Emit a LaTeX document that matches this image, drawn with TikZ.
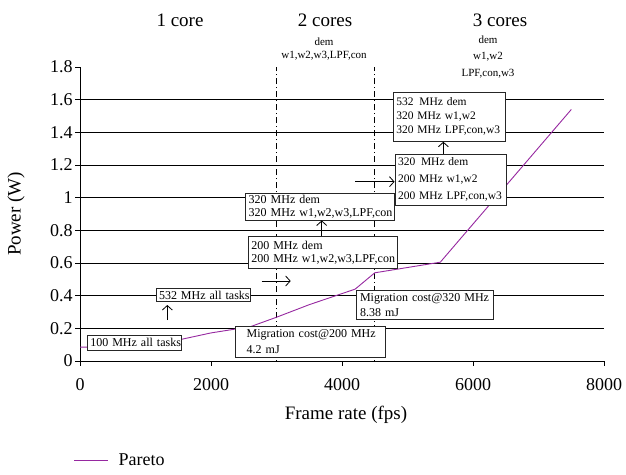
\documentclass[tikz,border=0pt]{standalone}
\usepackage{fontspec}
\setmainfont{Liberation Serif}
\usetikzlibrary{arrows.meta,calc}
\definecolor{pareto}{RGB}{150,40,160}
\newcommand\fsz[2]{\fontsize{#1}{#2}\selectfont}
\begin{document}
\begin{tikzpicture}[x=1pt,y=-1pt,
  gridline/.style={line width=0.8pt, black},
  axisline/.style={line width=0.9pt, black},
  coresep/.style={line width=0.7pt, black, dash pattern=on 1pt off 3pt on 6pt off 3pt},
  curve/.style={pareto, line width=0.9pt},
  box/.style={draw=black!85, line width=0.9pt, fill=white, inner xsep=3pt, inner ysep=0pt, align=left, font=\fsz{12}{13}},
  arr/.style={line width=0.8pt, -{Straight Barb[length=4.5pt,width=10pt]}},
  ticklab/.style={font=\fsz{18}{20}, inner sep=2pt},
  hdr/.style={font=\fsz{19}{21}},
  sublab/.style={font=\fsz{11}{13.3}, align=center},
  axlab/.style={font=\fsz{19}{21}},
]
\useasboundingbox (0,0) rectangle (626,474);

\begin{scope}[shift={(80,361)}, x=0.0655pt, y=163.33pt]
  \foreach \p in {0.2,0.4,0.6,0.8,1.0,1.2,1.4,1.6}
    \draw[gridline] (0,\p) -- (8000,\p);
  \draw[coresep] (3000,0) -- (3000,1.8);
  \draw[coresep] (4500,0) -- (4500,1.8);
  \draw[axisline] (0,1.8) -- (0,0) -- (8000,0);
  \foreach \p/\l in {0/0,0.2/0.2,0.4/0.4,0.6/0.6,0.8/0.8,1.0/1,1.2/1.2,1.4/1.4,1.6/1.6,1.8/1.8}
    \draw[axisline] (0,\p) -- ++(-5pt,0pt) node[anchor=east, ticklab] {\l};
  \foreach \x in {0,2000,4000,6000,8000}
    \draw[axisline] (\x,0) -- ++(0pt,-5pt) node[anchor=base, ticklab, yshift=-24pt] {\x};
  \draw[curve] plot coordinates {(0,0.085) (1000,0.085) (2000,0.172) (2600,0.21) (3000,0.268) (3500,0.345) (4200,0.44) (4500,0.54) (5500,0.605) (7500,1.54)};
\end{scope}

% headers
\node[hdr] (h1) at (180,20) {1 core};
\node[hdr] (h2) at (325,20) {2 cores};
\node[hdr] (h3) at (500,20) {3 cores};
\node[sublab] (s2) at (324,49.3) {dem\\w1,w2,w3,LPF,con};
\node[sublab, font=\fsz{11}{16.5}] (s3) at (488,57) {dem\\w1,w2\\LPF,con,w3};

% axis labels
\node[axlab] (xl) at (346,415) {Frame rate (fps)};
\node[axlab, rotate=90] (yl) at (16,214) {Power (W)};

% boxes
\node[box, text width=88.4pt, minimum height=14.3pt] (b1) at (134.5,342.85) {\mbox{100 MHz all tasks}};
\node[box, text width=88.7pt, minimum height=13.4pt] (b2) at (203.35,295) {\mbox{532 MHz all tasks}};
\node[box, inner xsep=11.7pt, text width=127.3pt, minimum height=31.3pt, font=\fsz{12}{15.7}] (b3) at (310.35,341.65) {\mbox{Migration cost@200 MHz}\\\mbox{4.2 mJ}};
\node[box, inner xsep=3.3pt, text width=130pt, minimum height=28.6pt, font=\fsz{12}{14.3}] (b4) at (425,305) {\mbox{Migration cost@320 MHz}\\\mbox{8.38 mJ}};
\node[box, text width=143.4pt, minimum height=31.6pt] (b5) at (323,252.5) {\mbox{200 MHz dem}\\\mbox{200 MHz w1,w2,w3,LPF,con}};
\node[box, text width=142.3pt, minimum height=26.7pt] (b6) at (319.85,206.65) {\mbox{320 MHz dem}\\\mbox{320 MHz w1,w2,w3,LPF,con}};
\node[box, text width=105.7pt, minimum height=51pt, font=\fsz{11.5}{17}] (b7) at (450.85,179.5) {\mbox{320\hspace{0.5em}MHz dem}\\\mbox{200 MHz w1,w2}\\\mbox{200 MHz LPF,con,w3}};
\node[box, text width=106pt, minimum height=49pt, font=\fsz{11.5}{14}] (b8) at (449.3,116.8) {\mbox{532\hspace{0.5em}MHz dem}\\\mbox{320 MHz w1,w2}\\\mbox{320 MHz LPF,con,w3}};

% arrows
\coordinate (a1s) at (167.3,320);
\coordinate (a1e) at (167.3,305);
\draw[arr] (a1s) -- (a1e);
\coordinate (a2s) at (261.7,281);
\coordinate (a2e) at (290.7,281);
\draw[arr] (a2s) -- (a2e);
\draw[arr] ([xshift=-1.3pt]b5.north) -- ([xshift=-1.3pt]b5.north |- b6.south);
\coordinate (a4s) at (355,181.7);
\draw[arr] (a4s) -- (a4s -| b7.west);
\draw[arr] ([xshift=-7.5pt]b7.north) -- ([xshift=-7.5pt]b7.north |- b8.south);

% legend
\coordinate (l1) at (74,460);
\coordinate (l2) at (108,460);
\draw[curve] (l1) -- (l2);
\node[axlab, anchor=west, font=\fsz{18}{20}] (lt) at (115,460) {Pareto};
\end{tikzpicture}
\end{document}
